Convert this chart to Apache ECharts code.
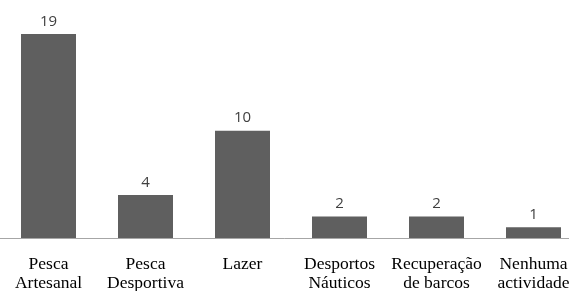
<!DOCTYPE html>
<html>
<head>
<meta charset="utf-8">
<script src="https://cdn.jsdelivr.net/npm/echarts@6/dist/echarts.min.js"></script>
<style>
html, body { margin: 0; padding: 0; background: #fff; }
#chart { width: 569px; height: 291px; }
</style>
</head>
<body>
<div id="chart"></div>
<script>
// actividades
var categories = ['Pesca\nArtesanal', 'Pesca\nDesportiva', 'Lazer', 'Desportos\nNáuticos', 'Recuperação\nde barcos', 'Nenhuma\nactividade'];
var values = [19, 4, 10, 2, 2, 1];

var myChart = echarts.init(document.getElementById('chart'));
var option = {
    animation: false,
    grid: {
        left: 0,
        top: 23.3,
        right: -13,
        bottom: 53,
        outerBoundsMode: 'none'
    },
    xAxis: {
        type: 'category',
        data: categories,
        axisLine: { lineStyle: { color: '#a6a6a6', width: 1 } },
        axisTick: { show: false },
        axisLabel: {
            interval: 0,
            margin: 17,
            color: '#000',
            fontFamily: '"Liberation Serif", "DejaVu Serif", serif',
            fontSize: 17.5,
            lineHeight: 19
        }
    },
    yAxis: {
        type: 'value',
        min: 0,
        max: 20,
        show: false,
        splitLine: { show: false }
    },
    series: [{
        type: 'bar',
        data: values,
        barWidth: 55,
        itemStyle: { color: '#5f5f5f' },
        label: {
            show: true,
            position: 'top',
            distance: 5,
            color: '#404040',
            fontFamily: 'Open Sans',
            fontSize: 15
        }
    }]
};
myChart.setOption(option);
</script>
</body>
</html>
